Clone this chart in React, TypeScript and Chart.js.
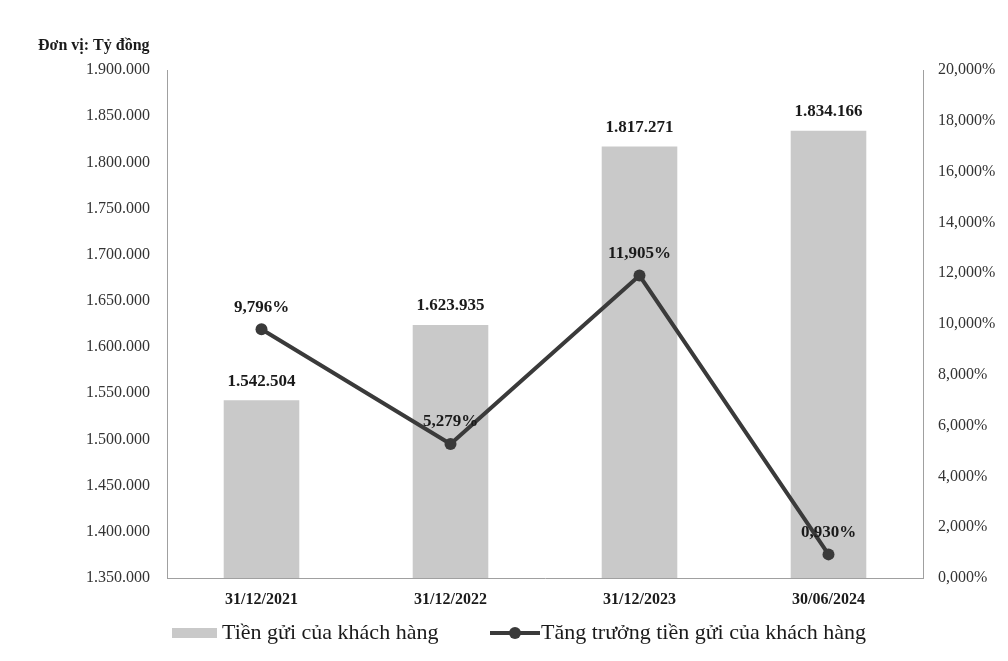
import React, { useEffect, useRef } from "react";
import { Chart, registerables } from "chart.js";

Chart.register(...registerables);

const categories = ["31/12/2021", "31/12/2022", "31/12/2023", "30/06/2024"];
const deposits = [1542504, 1623935, 1817271, 1834166];
const growth = [9.796, 5.279, 11.905, 0.93];
const seriesNames = ["Tiền gửi của khách hàng", "Tăng trưởng tiền gửi của khách hàng"];
const unitLabel = "Đơn vị: Tỷ đồng";

const FONT = "'Liberation Serif', 'Times New Roman', serif";

function fmtInt(v: number): string {
  return Math.round(v).toString().replace(/\B(?=(\d{3})+(?!\d))/g, ".");
}
function fmtPct(v: number): string {
  return v.toFixed(3).replace(".", ",") + "%";
}

const labelsPlugin = {
  id: "customLabels",
  afterDatasetsDraw(chart: any) {
    const ctx = chart.ctx;
    ctx.save();
    ctx.textAlign = "center";
    ctx.textBaseline = "middle";
    ctx.fillStyle = "#1a1a1a";
    ctx.font = `bold 17px ${FONT}`;
    const barMeta = chart.getDatasetMeta(0);
    barMeta.data.forEach((el: any, i: number) => {
      ctx.fillText(fmtInt(deposits[i]), el.x, el.y - 19);
    });
    const lineMeta = chart.getDatasetMeta(1);
    lineMeta.data.forEach((el: any, i: number) => {
      ctx.fillText(fmtPct(growth[i]), el.x, el.y - 22);
    });
    // unit title
    ctx.textAlign = "left";
    ctx.font = `bold 16px ${FONT}`;
    ctx.fillText(unitLabel, 38, 46);
    // legend
    const ly = 633;
    ctx.fillStyle = "#c9c9c9";
    ctx.fillRect(172, ly - 5, 45, 10);
    ctx.fillStyle = "#1a1a1a";
    ctx.font = `22px ${FONT}`;
    ctx.fillText(seriesNames[0], 222, ly);
    ctx.strokeStyle = "#3a3a3a";
    ctx.lineWidth = 4;
    ctx.beginPath();
    ctx.moveTo(490, ly);
    ctx.lineTo(540, ly);
    ctx.stroke();
    ctx.fillStyle = "#3a3a3a";
    ctx.beginPath();
    ctx.arc(515, ly, 6, 0, Math.PI * 2);
    ctx.fill();
    ctx.fillStyle = "#1a1a1a";
    ctx.fillText(seriesNames[1], 541, ly);
    ctx.restore();
  },
};

export default function App() {
  const ref = useRef<HTMLCanvasElement>(null);
  useEffect(() => {
    const chart = new Chart(ref.current!, {
      data: {
        labels: categories,
        datasets: [
          {
            type: "bar",
            label: seriesNames[0],
            data: deposits,
            backgroundColor: "#c9c9c9",
            yAxisID: "y",
            barPercentage: 0.4,
            categoryPercentage: 1,
            order: 2,
          },
          {
            type: "line",
            label: seriesNames[1],
            data: growth,
            borderColor: "#3a3a3a",
            backgroundColor: "#3a3a3a",
            borderWidth: 4,
            pointRadius: 6,
            pointBackgroundColor: "#3a3a3a",
            pointBorderWidth: 0,
            yAxisID: "y1",
            order: 1,
          },
        ],
      } as any,
      options: {
        animation: false,
        responsive: false,
        layout: { padding: { top: 70, bottom: 0, left: 0, right: 0 } },
        plugins: { legend: { display: false }, tooltip: { enabled: false } },
        scales: {
          x: {
            grid: { display: false, drawTicks: false },
            border: { color: "#a0a0a0", width: 1 },
            ticks: { padding: 12, color: "#1a1a1a", font: { family: FONT, size: 16, weight: "bold" } },
            afterFit(s: any) { s.height = 83; },
          },
          y: {
            position: "left",
            min: 1350000,
            max: 1900000,
            grid: { display: false, drawTicks: false },
            border: { color: "#a0a0a0", width: 1 },
            ticks: {
              stepSize: 50000,
              padding: 17,
              color: "#333",
              font: { family: FONT, size: 16 },
              callback: (v: any) => fmtInt(Number(v)),
            },
            afterFit(s: any) { s.width = 167; },
          },
          y1: {
            position: "right",
            min: 0,
            max: 20,
            grid: { display: false, drawTicks: false },
            border: { color: "#a0a0a0", width: 1 },
            ticks: {
              stepSize: 2,
              padding: 15,
              color: "#333",
              font: { family: FONT, size: 16 },
              callback: (v: any) => fmtPct(Number(v)),
            },
            afterFit(s: any) { s.width = 85; },
          },
        },
      } as any,
      plugins: [labelsPlugin],
    });
    return () => chart.destroy();
  }, []);
  return (
    <div style={{ position: "absolute", left: 0, top: 0, width: 1008, height: 661, background: "#fff" }}>
      <canvas ref={ref} width={1008} height={661} />
    </div>
  );
}
